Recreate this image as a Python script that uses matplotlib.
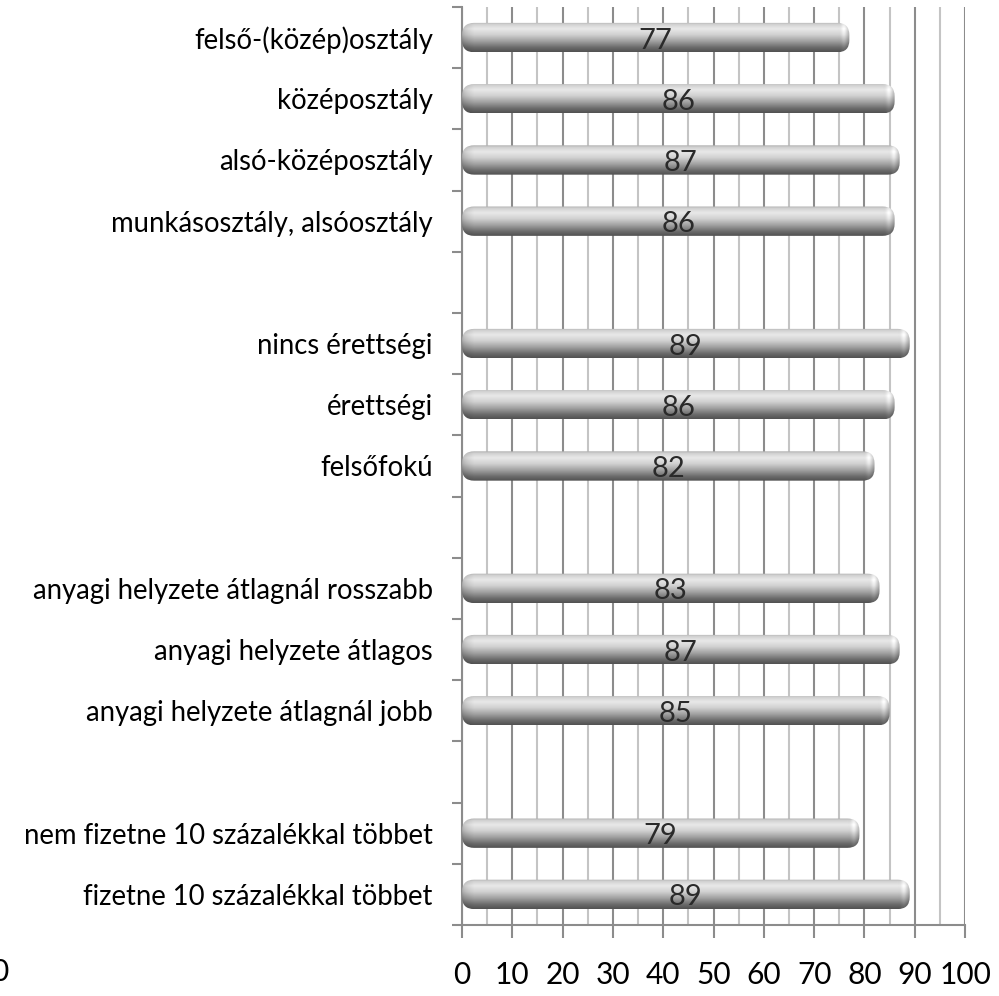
import numpy as np
import matplotlib.pyplot as plt
from matplotlib.patches import FancyBboxPatch
from matplotlib.ticker import MultipleLocator

categories = ['felső-(közép)osztály', 'középosztály', 'alsó-középosztály',
              'munkásosztály, alsóosztály', '',
              'nincs érettségi', 'érettségi', 'felsőfokú', '',
              'anyagi helyzete átlagnál rosszabb', 'anyagi helyzete átlagos',
              'anyagi helyzete átlagnál jobb', '',
              'nem fizetne 10 százalékkal többet', 'fizetne 10 százalékkal többet']
values = [77, 86, 87, 86, np.nan, 89, 86, 82, np.nan, 83, 87, 85, np.nan, 79, 89]
xticks = list(range(0, 101, 10))

plt.rcParams['font.family'] = ['Lato', 'DejaVu Sans']

fig = plt.figure(figsize=(9.99, 9.96), dpi=100)
ax = fig.add_axes([0.4625, 0.0713, 0.5035, 0.9217])

pos = np.arange(len(categories))
vals = np.array(values, dtype=float)
bars = ax.barh(pos, np.nan_to_num(vals), height=0.48, color='none', zorder=3)

# cylinder shading (top -> bottom)
rows = np.linspace(0, 1, 90)
prof = np.interp(rows, [0, 0.07, 0.22, 0.42, 0.65, 0.85, 1.0],
                 [0.68, 0.82, 0.91, 0.82, 0.62, 0.42, 0.32])
cap = 2.4
for rect, v in zip(bars, vals):
    if np.isnan(v):
        continue
    x0, y0, w, h = rect.get_x(), rect.get_y(), rect.get_width(), rect.get_height()
    xs = np.linspace(x0, x0 + w, 600)
    dl = np.clip((xs - x0) / cap, 0, 1)
    dr = np.clip((x0 + w - xs) / cap, 0, 1)
    hor = (0.78 + 0.22 * np.sqrt(dl)) * (0.80 + 0.20 * np.sqrt(dr))
    hor = hor * (1 + 0.18 * np.exp(-((dr - 0.45) / 0.25) ** 2) * (dr < 1))
    img = np.clip(prof[:, None] * hor[None, :], 0, 1)
    im = ax.imshow(img, cmap='gray', vmin=0, vmax=1, extent=[x0, x0 + w, y0 + h, y0],
                   aspect='auto', interpolation='bilinear', zorder=3)
    patch = FancyBboxPatch((x0, y0), w, h, boxstyle='round,pad=0,rounding_size=2.4',
                           mutation_aspect=0.082, fc='none', ec='none', zorder=3)
    ax.add_patch(patch)
    im.set_clip_path(patch)
    ax.text(v / 2, rect.get_y() + h / 2 + 0.05, f'{int(v)}', ha='center', va='center',
            fontsize=21, color='#2a2a2a', zorder=5)

ax.set_xlim(0, 100)
ax.set_ylim(len(categories) - 0.5, -0.5)

ax.set_xticks(xticks)
ax.xaxis.set_minor_locator(MultipleLocator(5))
ax.tick_params(axis='x', which='major', length=9, width=1.5, color='#8c8c8c',
               labelsize=21.5, pad=17)
ax.tick_params(axis='x', which='minor', length=0)

ax.set_yticks(np.arange(-0.5, len(categories), 1))
ax.set_yticklabels([])
ax.set_yticks(pos, minor=True)
ax.set_yticklabels(categories, minor=True)
ax.tick_params(axis='y', which='major', length=7.5, width=1.5, color='#8c8c8c')
ax.tick_params(axis='y', which='minor', length=0, labelsize=19.8, pad=21)

ax.grid(axis='x', which='major', color='#8c8c8c', lw=1.5, zorder=0)
ax.grid(axis='x', which='minor', color='#c4c4c4', lw=1.5, zorder=0)
ax.set_axisbelow(True)

for s in ['top', 'right']:
    ax.spines[s].set_visible(False)
for s in ['left', 'bottom']:
    ax.spines[s].set_color('#8c8c8c')
    ax.spines[s].set_linewidth(1.5)

# stray clipped label at the bottom-left edge, as in the original
fig.text(-0.009, 0.024, '0', fontsize=21.5, va='center', ha='left')

fig.savefig('out.png', dpi=100)
